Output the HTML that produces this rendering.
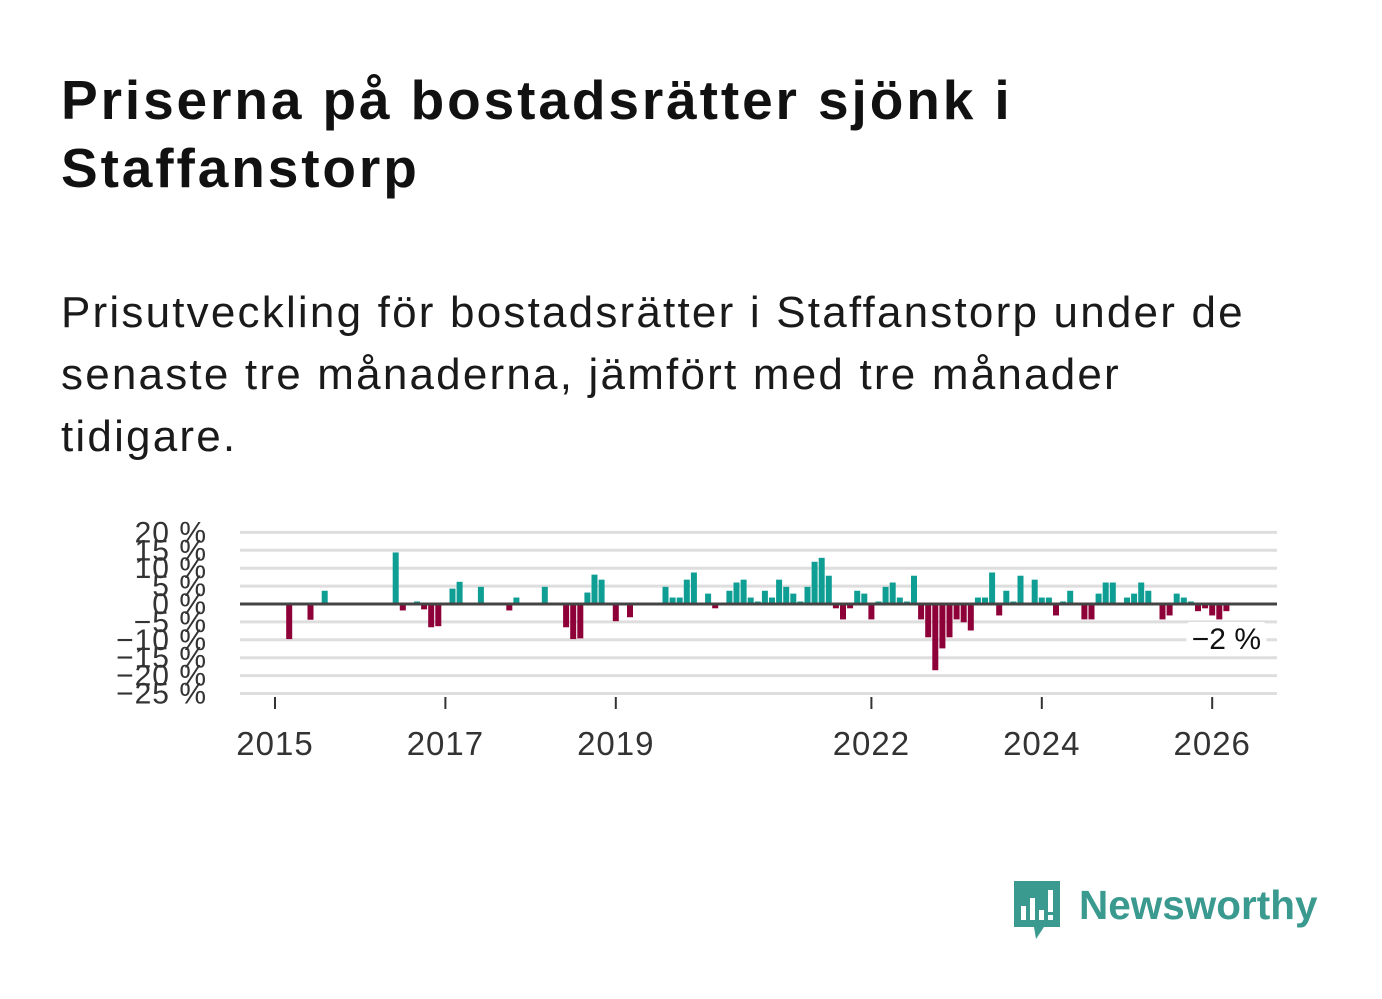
<!DOCTYPE html>
<html><head><meta charset="utf-8"><style>
body{margin:0;width:1382px;height:999px;background:#fff;overflow:hidden;font-family:"Liberation Sans",sans-serif;color:#111}
#title{position:absolute;left:61px;top:66px;font-size:55px;font-weight:bold;line-height:68px;margin:0;white-space:nowrap;letter-spacing:2.9px}
#sub{position:absolute;left:61px;top:282px;font-size:44px;line-height:62px;margin:0;white-space:nowrap;color:#1a1a1a;letter-spacing:2.2px}
svg{position:absolute;left:0;top:0}
</style></head><body>
<h1 id="title">Priserna på bostadsrätter sjönk i<br>Staffanstorp</h1>
<p id="sub">Prisutveckling för bostadsrätter i Staffanstorp under de<br>senaste tre månaderna, jämfört med tre månader<br>tidigare.</p>
<svg id="chart" width="1382" height="999"></svg>
<script>
const monthIndex=[2,5,7,17,18,20,21,22,23,25,26,29,33,34,38,41,42,43,44,45,46,48,50,55,56,57,58,59,61,62,64,65,66,67,68,69,70,71,72,73,74,75,76,77,78,79,80,81,82,83,84,85,86,87,88,89,90,91,92,93,94,95,96,97,98,99,100,101,102,103,104,105,107,108,109,110,111,112,114,115,116,117,118,120,121,122,123,125,126,127,128,129,130,131,132,133,134];
const values=[-9.8,-4.4,3.7,14.4,-1.8,0.7,-1.5,-6.5,-6.2,4.3,6.2,4.8,-1.8,1.8,4.8,-6.5,-9.8,-9.6,3.2,8.2,6.8,-4.8,-3.7,4.8,1.8,1.8,6.8,8.8,2.9,-1.2,3.7,6.0,6.8,1.8,0.7,3.7,1.8,6.8,4.8,2.9,0.7,4.8,11.8,12.9,7.9,-1.2,-4.3,-1.2,3.7,2.9,-4.3,0.7,4.8,6.0,1.8,0.7,7.9,-4.3,-9.3,-18.5,-12.4,-9.3,-4.3,-5.1,-7.4,1.8,1.8,8.8,-3.2,3.7,0.7,7.9,6.8,1.8,1.8,-3.2,0.7,3.7,-4.3,-4.3,2.9,6.0,6.0,1.8,2.9,6.0,3.7,-4.3,-3.2,2.9,1.8,0.7,-2.0,-1.2,-3.2,-4.3,-2.0];
const yTicks=[20,15,10,5,0,-5,-10,-15,-20,-25];
const xYears=[2015,2017,2019,2022,2024,2026];
const lastLabel="−2 %";
const NS="http://www.w3.org/2000/svg";
const svg=document.getElementById('chart');
const y=v=>604-v*3.58;
const x=m=>275+m*7.1;
const xYear=yr=>x((yr-2015)*12);
function el(t,a,p){const e=document.createElementNS(NS,t);for(const k in a)e.setAttribute(k,a[k]);(p||svg).appendChild(e);return e;}
yTicks.forEach(v=>{
  const g=el('line',{x1:240,x2:1277,y1:y(v),y2:y(v),stroke:'#dedede','stroke-width':3});
  
  
  const t=el('text',{x:207,y:y(v)+10,'text-anchor':'end','font-size':30,fill:'#333','font-family':'Liberation Sans, sans-serif','letter-spacing':1});
  t.textContent=(v<0?'−'+(-v):v)+' %';
  
  
});
values.forEach((v,i)=>{
  const cx=x(monthIndex[i]);
  const r=el('rect',{x:cx-3,width:6,y:Math.min(y(v),y(0)),height:Math.abs(y(v)-y(0)),fill:v>=0?'#0f9e94':'#8e0038'});
  
  
});
const z=el('line',{x1:240,x2:1277,y1:y(0),y2:y(0),stroke:'#444','stroke-width':3});


xYears.forEach(yr=>{
  const tk=el('line',{x1:xYear(yr),x2:xYear(yr),y1:697,y2:709,stroke:'#333','stroke-width':2});
  
  
  const t=el('text',{x:xYear(yr),y:755,'text-anchor':'middle','font-size':33,fill:'#333','font-family':'Liberation Sans, sans-serif','letter-spacing':1});
  t.textContent=yr;
  
  
});
const lx=x(monthIndex[monthIndex.length-1]);
const bg=el('rect',{x:lx-40,y:622,width:80,height:34,fill:'#fff',rx:4});


const lt=el('text',{x:lx,y:649,'text-anchor':'middle','font-size':30,fill:'#111','font-family':'Liberation Sans, sans-serif'});
lt.textContent=lastLabel;


</script>
<svg width="1382" height="999" style="pointer-events:none">
<path d="M1014 881 h46 v46 h-16 l-8 12 l-2 -12 h-20 z" fill="#3a9a8f"/>
<rect x="1021" y="906" width="5" height="14" fill="#fff"/><rect x="1030" y="898" width="5" height="22" fill="#fff"/><rect x="1039" y="910" width="5" height="10" fill="#fff"/><rect x="1048" y="890" width="5" height="22" fill="#fff"/><rect x="1048" y="915" width="5" height="5" fill="#fff"/>
<text x="1079" y="919" font-size="40.5" font-weight="bold" fill="#3a9a8f" font-family="Liberation Sans, sans-serif">Newsworthy</text>
</svg>
</body></html>
